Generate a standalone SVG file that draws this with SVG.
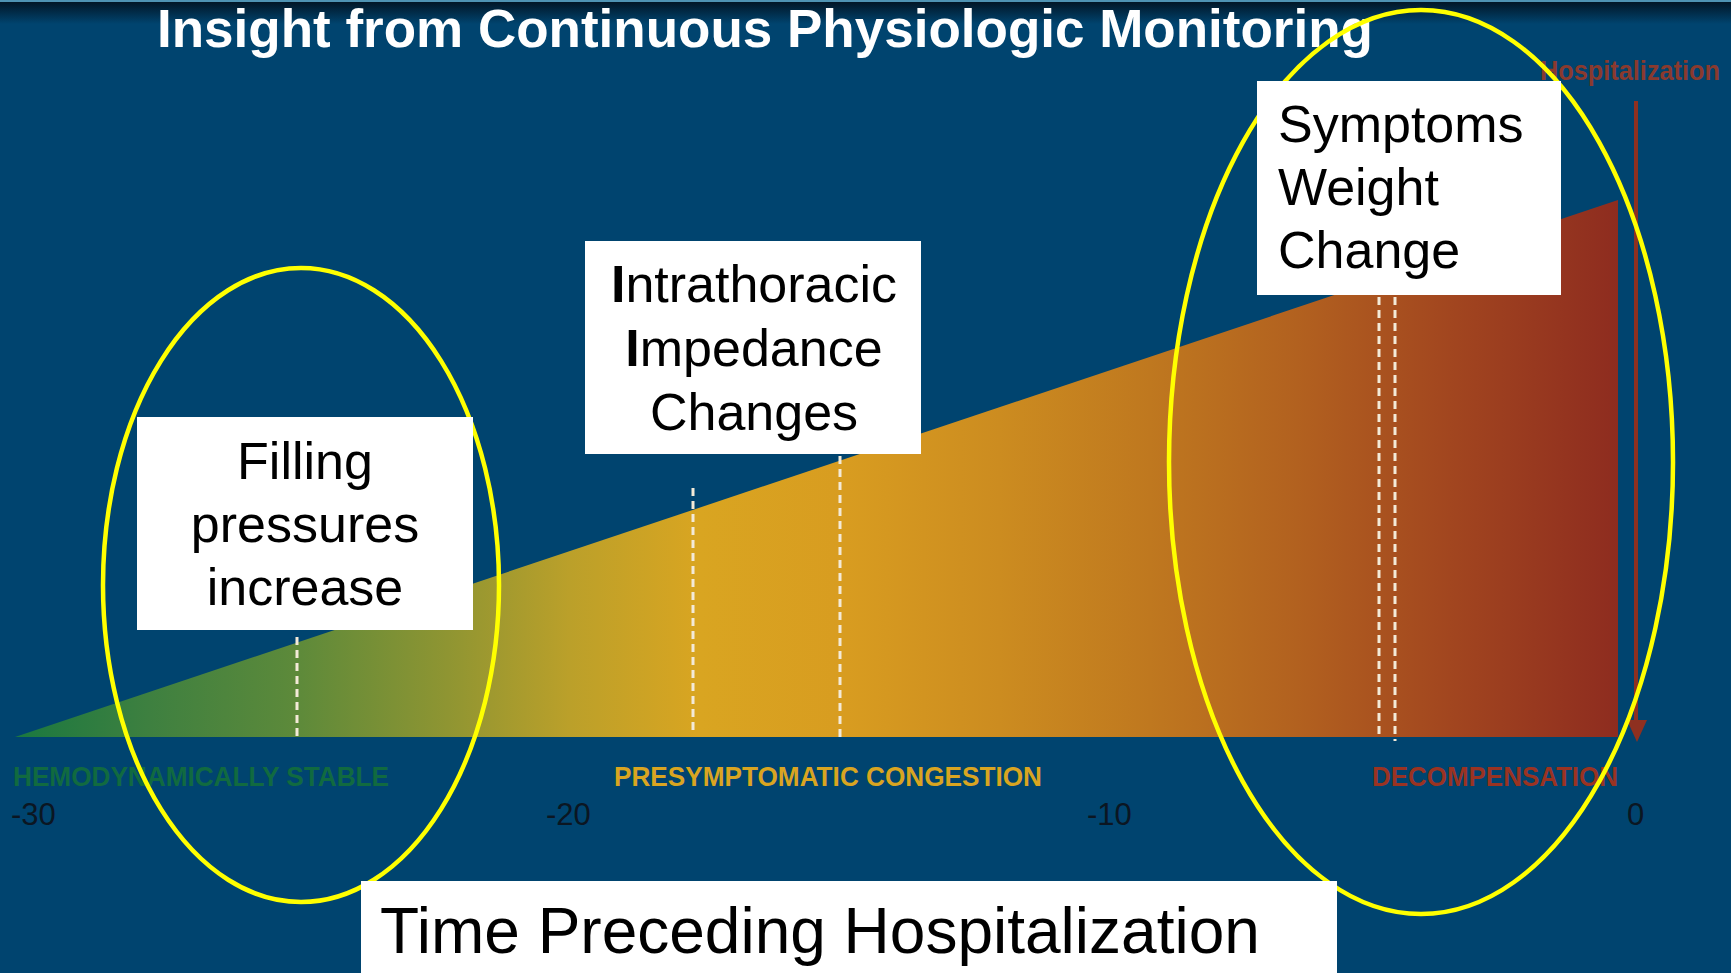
<svg xmlns="http://www.w3.org/2000/svg" width="1731" height="973" viewBox="0 0 1731 973">
  <defs>
    <linearGradient id="topShade" x1="0" y1="0" x2="0" y2="1">
      <stop offset="0" stop-color="#021626"/>
      <stop offset="1" stop-color="#00446f"/>
    </linearGradient>
    <linearGradient id="ramp" gradientUnits="userSpaceOnUse" x1="15" y1="0" x2="1618" y2="0">
      <stop offset="0" stop-color="#1a7840"/>
      <stop offset="0.084" stop-color="#3e8040"/>
      <stop offset="0.178" stop-color="#5e8a3a"/>
      <stop offset="0.27" stop-color="#8f9532"/>
      <stop offset="0.346" stop-color="#bba02a"/>
      <stop offset="0.427" stop-color="#d9a521"/>
      <stop offset="0.52" stop-color="#d89c20"/>
      <stop offset="0.614" stop-color="#cc8c20"/>
      <stop offset="0.708" stop-color="#bf781f"/>
      <stop offset="0.80" stop-color="#b2611f"/>
      <stop offset="0.895" stop-color="#a2461f"/>
      <stop offset="1" stop-color="#8e2c1f"/>
    </linearGradient>
  </defs>
  <style>
    .phase { font-family: "Liberation Sans", Arial, sans-serif; font-weight: bold; font-size: 28px; }
    .tick { font-family: "Liberation Sans", Arial, sans-serif; font-size: 31px; fill: #0b1622; }
    .marker { fill: none; stroke: #f3ead8; stroke-width: 3; stroke-dasharray: 8 5; }
    .box { fill: #ffffff; }
    .label { font-family: "Liberation Sans", Arial, sans-serif; font-size: 52px; fill: #000000; }
    .ring { fill: none; stroke: #ffff00; stroke-width: 4.5; }
  </style>

  <!-- slide background -->
  <rect x="0" y="0" width="1731" height="973" fill="#00446f"/>
  <rect x="0" y="2" width="1731" height="22" fill="url(#topShade)"/>
  <rect x="0" y="0" width="1731" height="2" fill="#4f93b3"/>

  <!-- rising congestion wedge -->
  <g id="wedge">
    <polygon points="15,737 1618,200 1618,737" fill="url(#ramp)"/>
  </g>

  <!-- dashed event markers -->
  <g id="markers">
    <line class="marker" x1="297" y1="637" x2="297" y2="740"/>
    <line class="marker" x1="693" y1="488" x2="693" y2="735"/>
    <line class="marker" x1="840" y1="456" x2="840" y2="740"/>
    <line class="marker" x1="1379" y1="297" x2="1379" y2="735"/>
    <line class="marker" x1="1395" y1="297" x2="1395" y2="741"/>
  </g>

  <!-- phase names -->
  <g id="phases">
    <text class="phase" x="13" y="786" fill="#116a40" textLength="376" lengthAdjust="spacingAndGlyphs">HEMODYNAMICALLY STABLE</text>
    <text class="phase" x="614" y="786" fill="#d9a521" textLength="428" lengthAdjust="spacingAndGlyphs">PRESYMPTOMATIC CONGESTION</text>
    <text class="phase" x="1372" y="786" fill="#9a3322" textLength="246" lengthAdjust="spacingAndGlyphs">DECOMPENSATION</text>
  </g>

  <!-- time axis values -->
  <g id="axis">
    <text class="tick" x="11" y="825">-30</text>
    <text class="tick" x="546" y="825">-20</text>
    <text class="tick" x="1087" y="825">-10</text>
    <text class="tick" x="1627" y="825">0</text>
  </g>

  <!-- hospitalization arrow -->
  <g id="connectors">
    <line x1="1636" y1="101" x2="1636" y2="722" stroke="#8e3020" stroke-width="4"/>
    <polygon points="1627,720 1647,720 1637,742" fill="#8e3020"/>
  </g>
  <g id="hospitalization">
    <text x="1540" y="80" font-family="'Liberation Sans', Arial, sans-serif" font-weight="bold" font-size="28" fill="#8a3a2e" textLength="180" lengthAdjust="spacingAndGlyphs">Hospitalization</text>
  </g>

  <!-- title -->
  <g id="title">
    <text x="157" y="47" font-family="'Liberation Sans', Arial, sans-serif" font-weight="bold" font-size="53" fill="#ffffff">Insight from Continuous Physiologic Monitoring</text>
  </g>

  <!-- highlight rings -->
  <g id="rings">
    <ellipse class="ring" cx="301" cy="585" rx="198" ry="317"/>
    <ellipse class="ring" cx="1421" cy="462" rx="252" ry="452"/>
  </g>

  <!-- callouts -->
  <g id="filling">
    <rect class="box" x="137" y="417" width="336" height="213"/>
    <text class="label" text-anchor="middle" x="305" y="479">Filling</text>
    <text class="label" text-anchor="middle" x="305" y="542">pressures</text>
    <text class="label" text-anchor="middle" x="305" y="605">increase</text>
  </g>

  <g id="impedance">
    <rect class="box" x="585" y="241" width="336" height="213"/>
    <text class="label" text-anchor="middle" x="754" y="302"><tspan font-weight="bold">I</tspan>ntrathoracic</text>
    <text class="label" text-anchor="middle" x="754" y="366"><tspan font-weight="bold">I</tspan>mpedance</text>
    <text class="label" text-anchor="middle" x="754" y="430">Changes</text>
  </g>

  <g id="symptoms">
    <rect class="box" x="1257" y="81" width="304" height="214"/>
    <text class="label" x="1278" y="142">Symptoms</text>
    <text class="label" x="1278" y="205">Weight</text>
    <text class="label" x="1278" y="268">Change</text>
  </g>

  <g id="time-axis-title">
    <rect class="box" x="361" y="881" width="976" height="92"/>
    <text x="380" y="953" font-family="'Liberation Sans', Arial, sans-serif" font-size="64" fill="#000000">Time Preceding Hospitalization</text>
  </g>
</svg>
